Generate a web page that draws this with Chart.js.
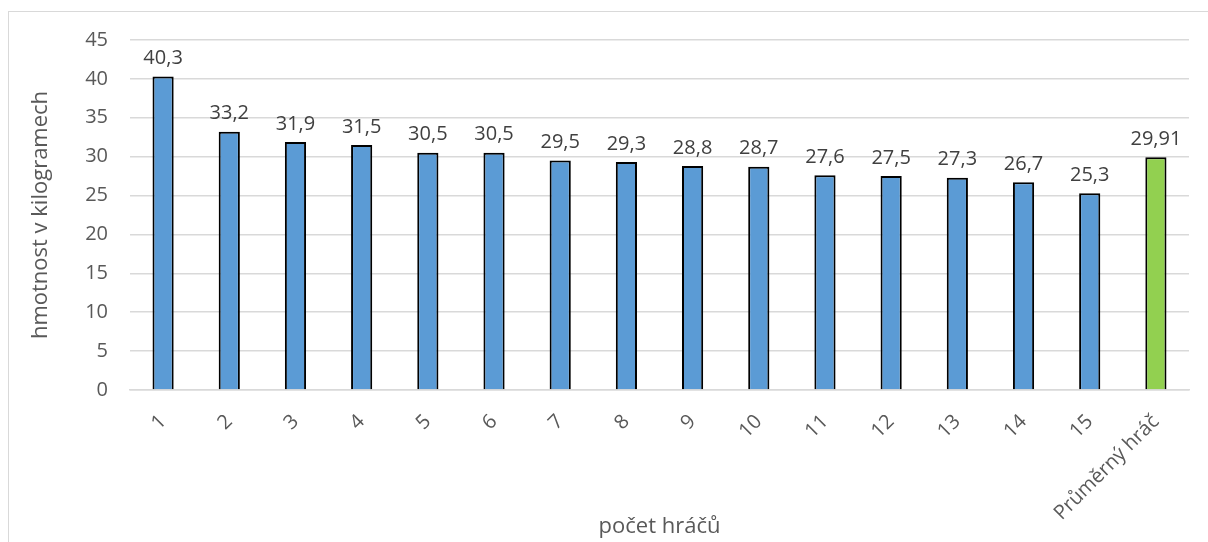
<!DOCTYPE html>
<html>
<head>
<meta charset="utf-8">
<script src="https://cdn.jsdelivr.net/npm/chart.js@4.4.0/dist/chart.umd.min.js"></script>
<style>
  html, body { margin: 0; padding: 0; background: #fff; }
  #wrap { width: 1208px; height: 542px; position: relative; }
</style>
</head>
<body>
<div id="wrap"><canvas id="weightChart" width="1208" height="542"></canvas></div>
<script>
// categories and values
const players = ['1', '2', '3', '4', '5', '6', '7', '8', '9', '10', '11', '12', '13', '14', '15', 'Průměrný hráč'];
const weights = [40.3, 33.2, 31.9, 31.5, 30.5, 30.5, 29.5, 29.3, 28.8, 28.7, 27.6, 27.5, 27.3, 26.7, 25.3, 29.91];
const yTicks = [0, 5, 10, 15, 20, 25, 30, 35, 40, 45];

const FONT = "'Open Sans', sans-serif";
const barColors = players.map((p, i) => i === players.length - 1 ? '#92D050' : '#5B9BD5');

// light frame around the whole chart, like the office chart border
const framePlugin = {
  id: 'frame',
  beforeDraw(chart) {
    const ctx = chart.ctx;
    ctx.save();
    ctx.strokeStyle = '#D9D9D9';
    ctx.lineWidth = 1;
    ctx.strokeRect(8.5, 11.5, 1400, 800);
    ctx.restore();
  }
};

// value labels above each bar, with decimal comma
const valueLabels = {
  id: 'valueLabels',
  afterDatasetsDraw(chart) {
    const ctx = chart.ctx;
    const meta = chart.getDatasetMeta(0);
    ctx.save();
    ctx.font = '20px ' + FONT;
    ctx.fillStyle = '#404040';
    ctx.textAlign = 'center';
    ctx.textBaseline = 'bottom';
    meta.data.forEach((bar, i) => {
      const txt = String(weights[i]).replace('.', ',');
      ctx.fillText(txt, bar.x, bar.y - 8);
    });
    ctx.restore();
  }
};

const ctx = document.getElementById('weightChart').getContext('2d');
const weightChart = new Chart(ctx, {
  type: 'bar',
  data: {
    labels: players,
    datasets: [{
      data: weights,
      backgroundColor: barColors,
      borderColor: '#000000',
      borderWidth: 2,
      barPercentage: 0.32,
      categoryPercentage: 1
    }]
  },
  options: {
    responsive: false,
    animation: false,
    layout: { padding: { left: 8, top: 40, right: 19, bottom: 0 } },
    plugins: {
      legend: { display: false },
      tooltip: { enabled: false }
    },
    scales: {
      x: {
        grid: { display: false },
        border: { color: '#D9D9D9', width: 1.5 },
        ticks: {
          minRotation: 45,
          maxRotation: 45,
          padding: 12,
          color: '#595959',
          font: { family: FONT, size: 20 }
        },
        title: {
          display: true,
          text: 'počet hráčů',
          color: '#595959',
          font: { family: FONT, size: 22 },
          padding: { top: 0, bottom: 2 }
        },
        afterFit(scale) { scale.height = 152; }
      },
      y: {
        min: 0,
        max: 45,
        afterBuildTicks(scale) { scale.ticks = yTicks.map(v => ({ value: v })); },
        grid: { color: '#D9D9D9', lineWidth: 1.5, drawTicks: false },
        border: { display: false },
        ticks: {
          padding: 22,
          color: '#595959',
          font: { family: FONT, size: 20 }
        },
        title: {
          display: true,
          text: 'hmotnost v kilogramech',
          color: '#595959',
          font: { family: FONT, size: 22 },
          padding: { top: 20, bottom: 0 }
        },
        afterFit(scale) { scale.width = 122; }
      }
    }
  },
  plugins: [framePlugin, valueLabels]
});
</script>
</body>
</html>
